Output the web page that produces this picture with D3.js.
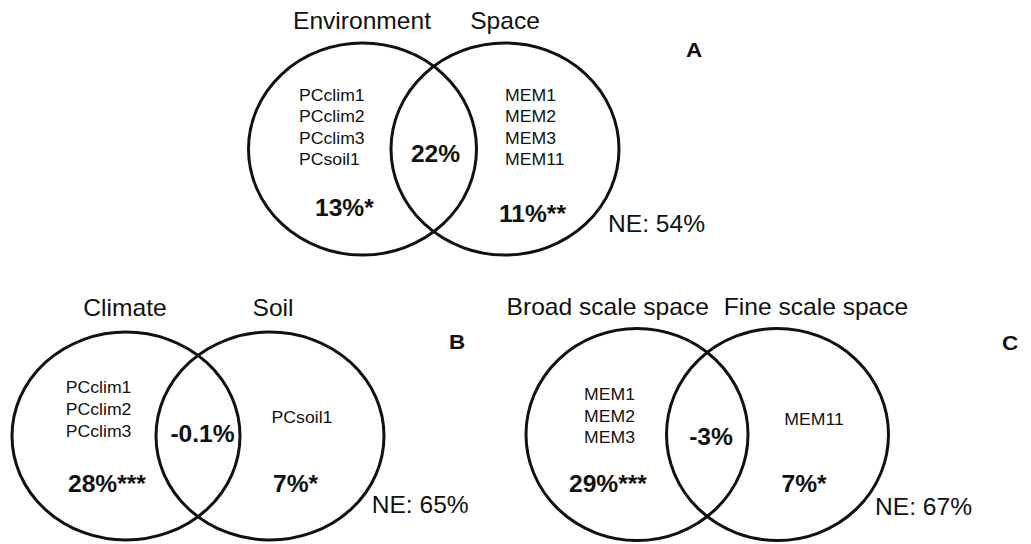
<!DOCTYPE html>
<html>
<head>
<meta charset="utf-8">
<script src="https://cdn.jsdelivr.net/npm/d3@7"></script>
<style>
  html, body { margin: 0; padding: 0; background: #fff; }
  svg { display: block; }
  text { font-family: "Liberation Sans", Arial, sans-serif; fill: #111; }
</style>
</head>
<body>
<svg id="chart" width="1031" height="544"></svg>
<script>
// Variation partitioning results, one Venn diagram per panel
const panelLetters   = ["A", "B", "C"];
const leftSetNames   = ["Environment", "Climate", "Broad scale space"];
const rightSetNames  = ["Space", "Soil", "Fine scale space"];
const leftVariables  = [["PCclim1", "PCclim2", "PCclim3", "PCsoil1"],
                        ["PCclim1", "PCclim2", "PCclim3"],
                        ["MEM1", "MEM2", "MEM3"]];
const rightVariables = [["MEM1", "MEM2", "MEM3", "MEM11"],
                        ["PCsoil1"],
                        ["MEM11"]];
const leftFraction   = [13, 28, 29];     // % explained uniquely by left set
const sharedFraction = [22, -0.1, -3];   // % shared by both sets
const rightFraction  = [11, 7, 7];       // % explained uniquely by right set
const unexplained    = [54, 65, 67];     // NE: not explained
const leftStars      = ["*", "***", "***"];
const rightStars     = ["**", "*", "*"];

const svg = d3.select("#chart");
const stretch = 1.07;          // horizontal stretch applied to text
const ink = "#111";

// Layout of each panel (pixel geometry)
const layout = [
  { cl: 362.5, cr: 505,   cy: 149,   rx: 114, ry: 106,
    titleY: 29, titleL: 362, titleR: 505,
    letter: [694, 57],
    varL: [299, 100.7], varR: [505, 100.7], varStep: 21.5, varRCentered: false,
    shared: [435.5, 162], fracL: [315, 216], fracR: [499, 222], ne: [608, 232] },
  { cl: 126,   cr: 270,   cy: 436,   rx: 114, ry: 104,
    titleY: 316, titleL: 125, titleR: 273,
    letter: [457, 349],
    varL: [65.7, 393.3], varR: [302, 423.3], varStep: 21.7, varRCentered: true,
    shared: [202.5, 442], fracL: [68, 492], fracR: [273, 492], ne: [371.7, 513.3] },
  { cl: 637,   cr: 777.5, cy: 434.5, rx: 111, ry: 106,
    titleY: 315, titleL: 607.7, titleR: 816,
    letter: [1010, 350],
    varL: [584, 400], varR: [814, 425], varStep: 21.7, varRCentered: true,
    shared: [711, 445], fracL: [569, 492], fracR: [781.5, 492], ne: [875, 515] }
];

// percentages with a plain hyphen for negatives
const locale = d3.formatLocale({ decimal: ".", thousands: ",", grouping: [3], currency: ["", ""], minus: "-" });
const fmt = v => (Number.isInteger(v) ? locale.format("d")(v) : locale.format(".1f")(v)) + "%";

function label(g, x, y, str, opts) {
  return g.append("text")
    .attr("transform", `translate(${x},${y}) scale(${stretch},1)`)
    .attr("text-anchor", opts.anchor || "start")
    .attr("font-size", opts.size)
    .attr("font-weight", opts.weight || "normal")
    .text(str);
}

panelLetters.forEach((letter, i) => {
  const L = layout[i];
  const g = svg.append("g").attr("class", "panel panel-" + letter);

  // two overlapping sets
  g.selectAll("ellipse")
    .data([L.cl, L.cr])
    .join("ellipse")
    .attr("cx", d => d)
    .attr("cy", L.cy)
    .attr("rx", L.rx)
    .attr("ry", L.ry)
    .attr("fill", "none")
    .attr("stroke", ink)
    .attr("stroke-width", 3);

  // set names
  label(g, L.titleL, L.titleY, leftSetNames[i], { size: 23, anchor: "middle" });
  label(g, L.titleR, L.titleY, rightSetNames[i], { size: 23, anchor: "middle" });

  // panel letter
  label(g, L.letter[0], L.letter[1], letter, { size: 21, weight: "bold", anchor: "middle" });

  // explanatory variables in each set
  leftVariables[i].forEach((v, k) => {
    label(g, L.varL[0], L.varL[1] + k * L.varStep, v, { size: 16.5 });
  });
  rightVariables[i].forEach((v, k) => {
    label(g, L.varR[0], L.varR[1] + k * L.varStep, v,
      { size: 16.5, anchor: L.varRCentered ? "middle" : "start" });
  });

  // fractions
  label(g, L.shared[0], L.shared[1], fmt(sharedFraction[i]), { size: 23, weight: "bold", anchor: "middle" });
  label(g, L.fracL[0], L.fracL[1], fmt(leftFraction[i]) + leftStars[i], { size: 23, weight: "bold" });
  label(g, L.fracR[0], L.fracR[1], fmt(rightFraction[i]) + rightStars[i], { size: 23, weight: "bold" });
  label(g, L.ne[0], L.ne[1], "NE: " + fmt(unexplained[i]), { size: 23 });
});
</script>
</body>
</html>
